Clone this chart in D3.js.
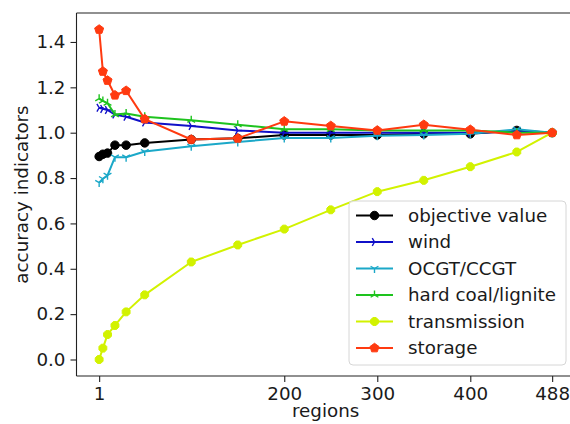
<!DOCTYPE html>
<html>
<head>
<meta charset="utf-8">
<script src="https://cdn.jsdelivr.net/npm/d3@7"></script>
<style>
  html, body { margin: 0; padding: 0; background: #fff; }
  svg { display: block; }
  text { font-family: "DejaVu Sans", sans-serif; fill: #1a1a1a; }
</style>
</head>
<body>
<svg id="chart" width="570" height="424"></svg>
<script>
// Number of regions in each clustered network
const regions = [1, 5, 10, 18, 30, 50, 100, 150, 200, 250, 300, 350, 400, 450, 488];

// Accuracy indicators relative to the full-resolution model
const objectiveValue = [0.895, 0.905, 0.91, 0.945, 0.945, 0.955, 0.97, 0.975, 0.99, 0.99, 0.99, 0.995, 0.995, 1.01, 1.0];
const wind           = [1.11, 1.105, 1.10, 1.08, 1.07, 1.045, 1.03, 1.01, 1.0, 1.0, 1.0, 1.0, 1.0, 1.005, 1.0];
const ocgtCcgt       = [0.78, 0.797, 0.812, 0.892, 0.892, 0.917, 0.94, 0.959, 0.977, 0.977, 0.986, 0.99, 0.995, 1.015, 1.0];
const hardCoal       = [1.15, 1.14, 1.13, 1.08, 1.085, 1.07, 1.055, 1.035, 1.015, 1.015, 1.01, 1.01, 1.01, 1.0, 1.0];
const transmission   = [0.0, 0.05, 0.11, 0.15, 0.21, 0.285, 0.43, 0.505, 0.575, 0.66, 0.74, 0.79, 0.85, 0.915, 1.0];
const storage        = [1.455, 1.27, 1.23, 1.165, 1.185, 1.06, 0.97, 0.975, 1.05, 1.03, 1.01, 1.035, 1.013, 0.99, 1.0];

const seriesNames = ["objective value", "wind", "OCGT/CCGT", "hard coal/lignite", "transmission", "storage"];
const seriesValues = [objectiveValue, wind, ocgtCcgt, hardCoal, transmission, storage];
const seriesColors = ["#000000", "#1010c8", "#1ba8c8", "#1ec31e", "#d2f200", "#ff3a10"];
const seriesMarkers = ["circle", "tri_right", "tri_down", "tri_up", "octagon", "pentagon"];

const xTicks = [1, 200, 300, 400, 488];
const yTicks = [0.0, 0.2, 0.4, 0.6, 0.8, 1.0, 1.2, 1.4];

const svg = d3.select("#chart");

// plot area (right edge runs past the canvas)
const plot = { left: 76.5, right: 574.8, top: 13, bottom: 376 };

const xMin = d3.min(regions), xMax = d3.max(regions);
const xPad = (xMax - xMin) * 0.05;
const x = d3.scaleLinear().domain([xMin - xPad, xMax + xPad]).range([plot.left, plot.right]);

const allVals = seriesValues.flat();
const yMin = d3.min(allVals), yMax = d3.max(allVals);
const yPad = (yMax - yMin) * 0.05;
const y = d3.scaleLinear().domain([yMin - yPad, yMax + yPad]).range([plot.bottom, plot.top]);

// axes
const xAxis = d3.axisBottom(x).tickValues(xTicks).tickFormat(d3.format("d")).tickSize(6).tickPadding(5);
const yAxis = d3.axisLeft(y).tickValues(yTicks).tickFormat(d3.format(".1f")).tickSize(6).tickPadding(5);

const gx = svg.append("g").attr("transform", `translate(0,${plot.bottom})`).call(xAxis);
const gy = svg.append("g").attr("transform", `translate(${plot.left},0)`).call(yAxis);
[gx, gy].forEach(g => {
  g.select(".domain").remove();
  g.selectAll(".tick line").attr("stroke", "#222").attr("stroke-width", 1.1);
  g.selectAll(".tick text").attr("font-size", 18.3).attr("font-family", "DejaVu Sans").attr("fill", "#1a1a1a");
});

// spines
const spines = [
  [plot.left, plot.top, plot.left, plot.bottom],
  [plot.left, plot.bottom, plot.right, plot.bottom],
  [plot.left, plot.top, plot.right, plot.top],
  [plot.right, plot.top, plot.right, plot.bottom]
];
spines.forEach(s => svg.append("line")
  .attr("x1", s[0]).attr("y1", s[1]).attr("x2", s[2]).attr("y2", s[3])
  .attr("stroke", "#222").attr("stroke-width", 1.1));

// axis labels
svg.append("text").attr("x", (plot.left + plot.right) / 2).attr("y", 417)
  .attr("text-anchor", "middle").attr("font-size", 18.3).text("regions");
svg.append("text").attr("transform", `translate(28,${(plot.top + plot.bottom) / 2}) rotate(-90)`)
  .attr("text-anchor", "middle").attr("font-size", 18.3).text("accuracy indicators");

// marker shapes
function markerPath(type, s) {
  const r = s / 2;
  if (type === "circle") return d3.symbol(d3.symbolCircle, Math.PI * r * r)();
  if (type === "octagon" || type === "pentagon") {
    const n = type === "octagon" ? 8 : 5;
    const off = type === "octagon" ? Math.PI / 8 : -Math.PI / 2;
    const pts = d3.range(n).map(i => {
      const a = off + i * 2 * Math.PI / n;
      return [r * Math.cos(a), r * Math.sin(a)];
    });
    return "M" + pts.map(p => p.join(",")).join("L") + "Z";
  }
  // tri markers: three spokes from the centre
  let angles;
  if (type === "tri_right") angles = [0, 120, 240];
  else if (type === "tri_down") angles = [90, 210, 330];
  else angles = [270, 30, 150];
  return angles.map(a => {
    const t = a * Math.PI / 180;
    return `M0,0L${r * Math.cos(t)},${r * Math.sin(t)}`;
  }).join("");
}
const markerSize = { circle: 8.5, octagon: 8.5, pentagon: 9.5, tri_right: 9, tri_down: 9, tri_up: 9 };

function drawMarker(g, type, color, cx, cy) {
  const p = g.append("path").attr("d", markerPath(type, markerSize[type]))
    .attr("transform", `translate(${cx},${cy})`);
  if (type.startsWith("tri")) p.attr("fill", "none").attr("stroke", color).attr("stroke-width", 1.4);
  else p.attr("fill", color).attr("stroke", color).attr("stroke-width", 1);
}

const line = d3.line().x(d => x(d[0])).y(d => y(d[1]));

seriesValues.forEach((vals, i) => {
  const pts = regions.map((r, j) => [r, vals[j]]);
  const g = svg.append("g");
  g.append("path").datum(pts).attr("d", line).attr("fill", "none")
    .attr("stroke", seriesColors[i]).attr("stroke-width", 2).attr("stroke-linejoin", "round");
  pts.forEach(p => drawMarker(g, seriesMarkers[i], seriesColors[i], x(p[0]), y(p[1])));
});

// legend
const lg = svg.append("g");
const lx = 349, ly = 201, lw = 217, lh = 164;
lg.append("rect").attr("x", lx).attr("y", ly).attr("width", lw).attr("height", lh)
  .attr("rx", 4).attr("fill", "#fff").attr("fill-opacity", 0.8)
  .attr("stroke", "#d6d6d6").attr("stroke-width", 1);
seriesNames.forEach((name, i) => {
  const cy = 215.5 + i * 26.5;
  lg.append("line").attr("x1", 356).attr("x2", 393).attr("y1", cy).attr("y2", cy)
    .attr("stroke", seriesColors[i]).attr("stroke-width", 2);
  drawMarker(lg, seriesMarkers[i], seriesColors[i], 374.5, cy);
  lg.append("text").attr("x", 408).attr("y", cy).attr("dy", "0.35em")
    .attr("font-size", 18.3).text(name);
});
</script>
</body>
</html>
